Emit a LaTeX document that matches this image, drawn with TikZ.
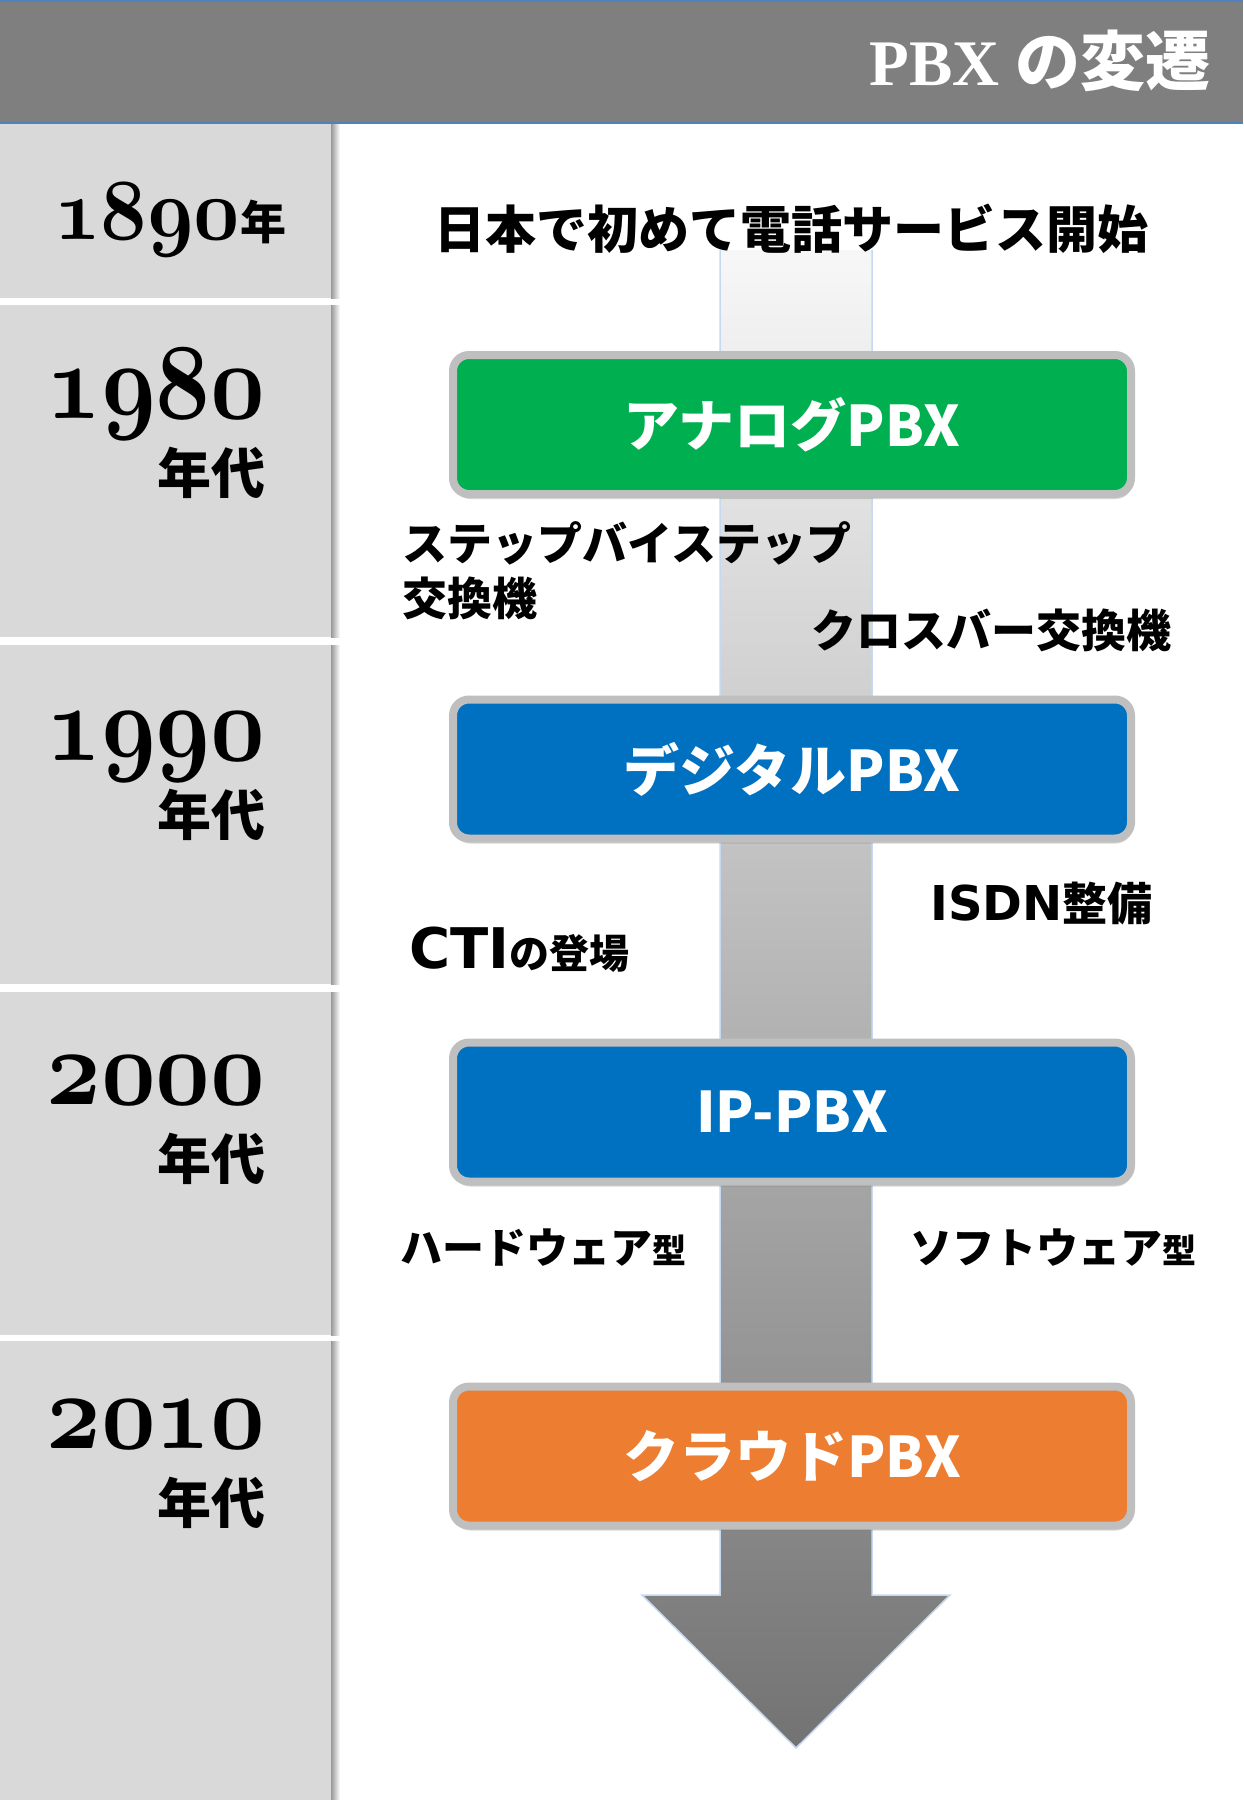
\documentclass[tikz,border=0pt]{standalone}
\usepackage{fontspec}
\setmainfont{Liberation Serif}
\newfontfamily\jp{Noto Sans CJK JP}
\newfontfamily\lat{DejaVu Sans}
\usepackage{xcolor}
\usepackage{graphicx}
\usepackage{tikz}
\usetikzlibrary{positioning,shadows}

\definecolor{bandgray}{HTML}{7F7F7F}
\definecolor{bandline}{HTML}{4F81BD}
\definecolor{panelgray}{HTML}{D9D9D9}
\definecolor{framegray}{HTML}{BFBFBF}
\definecolor{pbxgreen}{HTML}{00B050}
\definecolor{pbxblue}{HTML}{0070C0}
\definecolor{pbxorange}{HTML}{ED7D31}
\definecolor{arrowedge}{HTML}{C6D9F1}

\begin{document}
\begin{tikzpicture}[x=0.5pt,y=-0.5pt]
    \tikzstyle{pbxbox}=[rectangle, rounded corners=8pt, draw=framegray, line width=4pt,
        minimum width=339pt, minimum height=69.5pt, inner sep=0pt, text=white,
        drop shadow={shadow xshift=0.5pt, shadow yshift=-2.5pt, opacity=0.3}]
    \tikzstyle{note}=[inner sep=0pt, text=black]
    \tikzstyle{year}=[inner sep=0pt, anchor=base east]
    \tikzstyle{decade}=[inner sep=0pt, anchor=east]

    \newcommand{\jpfont}[1]{\jp\bfseries\fontsize{#1}{#1}\selectfont}
    \newcommand{\latfont}[1]{\lat\bfseries\fontsize{#1}{#1}\selectfont}
    % old style figures, scaled up from 20.74pt
    \newcommand{\oldyr}[3]{\scalebox{#1}[#2]{\fontsize{20.74}{20.74}\usefont{OML}{cmm}{b}{it}#3}}

    \useasboundingbox (0,0) rectangle (1243,1800);
    \fill[white] (0,0) rectangle (1243,1800);

    % Draw the title band
    \fill[bandgray] (0,0) rectangle (1243,123);
    \draw[bandline, line width=0.75pt] (0,1) -- (1243,1);
    \draw[bandline, line width=1pt] (0,123) -- (1243,123);
    \node[anchor=base east, inner sep=0pt, text=white] (title) at (1211,85)
        {{\rmfamily\bfseries\fontsize{32.5}{32.5}\selectfont PBX }{\jpfont{32.5}の変遷}};

    % Draw the year panels on the left
    \foreach \ya/\yb in {124/298, 305/637, 645/984, 992/1335, 1341/1800} {
        \fill[panelgray] (0,\ya) rectangle (331,\yb);
        \shade[left color=black!40, right color=white] (331,\ya) rectangle (340,\yb);
    }

    % Annotate the years
    \node[inner sep=0pt, anchor=base west] (y1890) at (54,239)
        {\oldyr{1.95}{2.1}{1890}{\jpfont{23}年}};
    \foreach \name/\base in {1980/418, 1990/760, 2000/1104, 2010/1448} {
        \node[year] (y\name) at (266,\base) {\oldyr{2.3}{2.6}{\name}};
        \node[decade] (d\name) at (266,\base+55) {\jpfont{27}年代};
    }

    % Draw the timeline arrow
    \shade[top color=white!97!black, bottom color=black!55]
        (720,250) -- (872,250) -- (872,1595) -- (950,1595) -- (796,1748)
        -- (642,1595) -- (720,1595) -- cycle;
    \draw[arrowedge, line width=0.75pt]
        (872,250) -- (872,1595) -- (950,1595) -- (796,1748)
        -- (642,1595) -- (720,1595) -- (720,250);

    % Draw the PBX boxes
    \foreach \name/\ypos/\col/\txt in {analog/424.5/pbxgreen/アナログPBX,
            digital/769/pbxblue/デジタルPBX, ippbx/1112/pbxblue/IP-PBX,
            cloud/1456/pbxorange/クラウドPBX}
        \node[pbxbox, fill=\col, font=\jpfont{28}] (\name) at (792,\ypos) {\txt};

    % Annotate the steps between the boxes
    \node[note, font=\jpfont{25.5}] (start) at (791,229) {日本で初めて電話サービス開始};
    \node[note, anchor=west, align=left, font=\jpfont{22.5}] (stepbystep) at (402,571)
        {ステップバイステップ\\[5pt]交換機};
    \node[note, font=\jpfont{22.5}] (crossbar) at (991,630) {クロスバー交換機};
    \node[note, anchor=west] (isdn) at (930,903) {{\latfont{24}ISDN}{\jpfont{22.5}整備}};
    \node[note, anchor=west] (cti) at (409,950) {{\latfont{28}CTI}{\jpfont{20}の登場}};
    \node[note, anchor=west] (hardware) at (400,1248) {{\jpfont{21}ハードウェア}{\jpfont{17}型}};
    \node[note, anchor=west] (software) at (910,1248) {{\jpfont{21}ソフトウェア}{\jpfont{17}型}};
\end{tikzpicture}
\end{document}
